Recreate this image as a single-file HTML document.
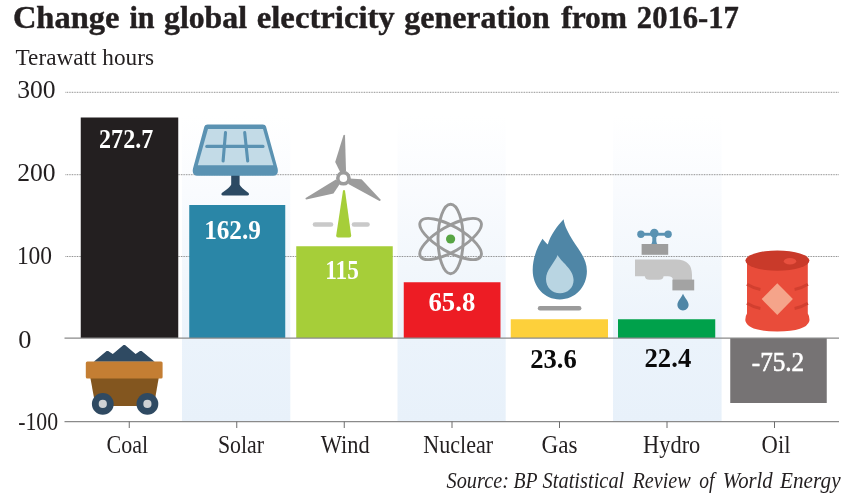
<!DOCTYPE html>
<html>
<head>
<meta charset="utf-8">
<title>Change in global electricity generation from 2016-17</title>
<style>
html,body{margin:0;padding:0;background:#ffffff;}
body{width:861px;height:494px;overflow:hidden;position:relative;font-family:"Liberation Serif",serif;}
svg{position:absolute;left:0;top:0;display:block;will-change:transform;}
text{font-family:"Liberation Serif",serif;fill:#231f20;}
.b{font-weight:bold;}
.t{stroke:#231f20;stroke-width:0.45px;}
.w{fill:#ffffff;}
.k{fill:#0a0a0a;}
.i{font-style:italic;}
</style>
</head>
<body>
<svg width="861" height="494" viewBox="0 0 861 494">
<defs>
<linearGradient id="band" x1="0" y1="0" x2="0" y2="1">
<stop offset="0" stop-color="#ffffff"/>
<stop offset="0.25" stop-color="#f9fbfe"/>
<stop offset="0.5" stop-color="#f2f7fc"/>
<stop offset="0.725" stop-color="#ebf3fb"/>
<stop offset="1" stop-color="#e8f1fa"/>
</linearGradient>
</defs>

<!-- alternating bands -->
<rect x="182" y="116" width="108.3" height="305" fill="url(#band)"/>
<rect x="397.5" y="116" width="108.2" height="305" fill="url(#band)"/>
<rect x="613" y="116" width="108.6" height="305" fill="url(#band)"/>

<!-- grid lines -->
<g stroke="#808080" stroke-width="1" stroke-dasharray="0.85 0.8" fill="none">
<line x1="65.5" y1="92.3" x2="839" y2="92.3"/>
<line x1="65.5" y1="174.7" x2="839" y2="174.7"/>
<line x1="65.5" y1="256.5" x2="839" y2="256.5"/>
</g>

<!-- bars -->
<rect x="80.75" y="117.5" width="97.5" height="220.5" fill="#231f20"/>
<rect x="189.25" y="205" width="96" height="133" fill="#2a86a7"/>
<rect x="296.25" y="246.25" width="96.5" height="91.75" fill="#a6ce39"/>
<rect x="403.75" y="282.25" width="96.75" height="55.75" fill="#ed1c24"/>
<rect x="510.75" y="319.25" width="97.25" height="18.75" fill="#fdd03b"/>
<rect x="618" y="319.25" width="97.25" height="18.75" fill="#00a14b"/>
<rect x="730.25" y="338" width="96.5" height="65" fill="#767374"/>

<!-- axis lines -->
<g stroke="#8a8a8a" stroke-width="1.25" fill="none">
<line x1="64.5" y1="338" x2="839" y2="338"/>
<line x1="64.5" y1="421.6" x2="839" y2="421.6"/>
</g>
<g stroke="#6d6d6d" stroke-width="1" fill="none">
<line x1="129.25" y1="421.6" x2="129.25" y2="428"/>
<line x1="236.75" y1="421.6" x2="236.75" y2="428"/>
<line x1="344.25" y1="421.6" x2="344.25" y2="428"/>
<line x1="452" y1="421.6" x2="452" y2="428"/>
<line x1="559.5" y1="421.6" x2="559.5" y2="428"/>
<line x1="667" y1="421.6" x2="667" y2="428"/>
<line x1="774.5" y1="421.6" x2="774.5" y2="428"/>
</g>

<!-- ICONS -->
<!-- coal cart -->
<g id="coal">
<polygon points="93.7,361.8 106.6,351 108.2,351 112.8,353.9 123.5,345 125,345 135.6,353.9 140,351 141.6,351 154.7,361.8" fill="#2f4a62"/>
<polygon points="90.4,378 158.7,378 153.8,406 95.5,406" fill="#83561f"/>
<rect x="85.8" y="361.6" width="76.8" height="16.8" rx="1.5" fill="#c47e33"/>
<circle cx="102.8" cy="403.9" r="10.9" fill="#2f4a62"/>
<circle cx="147.4" cy="403.9" r="10.9" fill="#2f4a62"/>
<circle cx="102.8" cy="403.9" r="4.1" fill="#cfd2d4"/>
<circle cx="147.4" cy="403.9" r="4.1" fill="#cfd2d4"/>
</g>

<!-- solar panel -->
<g id="solar">
<path d="M231.2,174 L239.6,174 L239.6,184.6 Q240.4,187.4 248.6,193 Q249.8,195.4 247.4,195.4 L223,195.4 Q220.6,195.4 221.8,193 Q230.4,187.4 231.2,184.6 Z" fill="#2c4a63"/>
<path d="M207.6,124.4 L262.8,124.4 Q265.4,124.4 266,126.6 L277.6,168.6 Q279,175.8 273,175.8 L197.6,175.8 Q191.6,175.8 193,168.6 L204.4,126.6 Q205,124.4 207.6,124.4 Z" fill="#5a92b2"/>
<polygon points="208,129 263,129 273.3,165.2 197.8,165.2" fill="#c3dbe7"/>
<g stroke="#5a92b2" stroke-width="3.1" stroke-linecap="round" fill="none">
<line x1="206.8" y1="146.4" x2="263" y2="146.4"/>
<line x1="225.5" y1="132.6" x2="223.1" y2="161"/>
<line x1="244.7" y1="132.6" x2="247.7" y2="161"/>
</g>
</g>

<!-- wind turbine -->
<g id="wind">
<g stroke="#c9c9c9" stroke-width="4.6" stroke-linecap="round">
<line x1="315" y1="224.5" x2="331" y2="224.5"/>
<line x1="354" y1="224.5" x2="367.5" y2="224.5"/>
</g>
<path d="M343,190.6 Q344,189.6 345,190.6 L351.2,235.4 Q351.4,237.4 349.4,237.4 L338,237.4 Q336,237.4 336.2,235.4 Z" fill="#a6ce39"/>
<g fill="#9c9c9c">
<path d="M343.4,135.4 Q344.3,134.2 345,135.6 L346,171 L340.6,173 L335.2,162 Z"/>
<path d="M343.4,135.4 Q344.3,134.2 345,135.6 L346,171 L340.6,173 L335.2,162 Z" transform="rotate(120 343.4 178.2)"/>
<path d="M343.4,135.4 Q344.3,134.2 345,135.6 L346,171 L340.6,173 L335.2,162 Z" transform="rotate(240 343.4 178.2)"/>
</g>
<circle cx="343.4" cy="178.2" r="5.6" fill="#ffffff" stroke="#9c9c9c" stroke-width="3.6"/>
</g>

<!-- atom -->
<g id="atom" fill="none" stroke="#9a9a9a" stroke-width="2.9">
<ellipse cx="450.6" cy="239" rx="12.6" ry="34.8"/>
<ellipse cx="450.6" cy="239" rx="12.6" ry="34.8" transform="rotate(60 450.6 239)"/>
<ellipse cx="450.6" cy="239" rx="12.6" ry="34.8" transform="rotate(120 450.6 239)"/>
</g>
<circle cx="450.6" cy="239" r="4.6" fill="#57a544"/>

<!-- gas flame -->
<g id="gas">
<path d="M563.6,219.2 C564.5,226 568,232.5 573.5,241.5 C579,250 586.9,259 586.9,271 C586.9,287 575,299.4 559.8,299.4 C544.6,299.4 532.7,287 532.7,270 C532.7,258 537.5,246.5 542.5,238.8 C544,241 546,243 547.8,244.4 C550.5,235 557,226 563.6,219.2 Z" fill="#4f86a6"/>
<path d="M557.7,255 C560,261 573.6,269 573.6,280 C573.6,288 567.5,293.2 560,293.2 C552,293.2 546,287.6 546,279 C546,270 554.5,263 557.7,255 Z" fill="#b9d5e2"/>
<line x1="540" y1="308.3" x2="579.2" y2="308.3" stroke="#9b9b9b" stroke-width="4.4" stroke-linecap="round"/>
</g>

<!-- hydro tap -->
<g id="hydro">
<g fill="#5a92b2">
<rect x="640.8" y="232.8" width="27.4" height="2.9"/>
<circle cx="640.9" cy="234.3" r="3.7"/>
<circle cx="654.3" cy="233.1" r="4.3"/>
<circle cx="668.1" cy="234.3" r="3.7"/>
<path d="M652.3,233 L656.3,233 L656.3,241 Q656.5,243.4 657.6,244.4 L651,244.4 Q652.1,243.4 652.3,241 Z"/>
</g>
<path d="M635,259.4 L676,259.4 Q692,259.4 692,275 L692,280 L673,280 Q673,276.2 668,276.2 L663.6,276.2 Q663.2,279.8 659,279.8 L649.4,279.8 Q645.2,279.8 644.8,276.2 L635,276.2 Z" fill="#c6c6c6"/>
<rect x="641.6" y="244" width="26.6" height="10.8" fill="#9d9d9d"/>
<rect x="672.4" y="279.6" width="21.8" height="10.8" fill="#a3a3a3"/>
<path d="M683,293.8 C684.8,298.2 688.6,301.2 688.6,304.8 C688.6,308.2 686,310.4 683,310.4 C680,310.4 677.4,308.2 677.4,304.8 C677.4,301.2 681.2,298.2 683,293.8 Z" fill="#4f86a6"/>
</g>

<!-- oil barrel -->
<g id="oil">
<path d="M747,260.6 L807.8,260.6 L807.8,313.6 Q809.8,316.6 809.4,321 Q806.4,331.4 777.4,331.4 Q748.4,331.4 745.4,321 Q745,316.6 747,313.6 Z" fill="#e94c3a"/>
<path d="M747,284.3 Q753.5,288.3 760.4,289.5" stroke="#d23f2f" stroke-width="3" fill="none"/>
<path d="M747,303.2 Q753.5,307.2 760.4,308.4" stroke="#d23f2f" stroke-width="3" fill="none"/>
<path d="M807.8,284.3 Q801.5,288.3 794.6,289.5" stroke="#d23f2f" stroke-width="3" fill="none"/>
<path d="M807.8,303.2 Q801.5,307.2 794.6,308.4" stroke="#d23f2f" stroke-width="3" fill="none"/>
<ellipse cx="777.4" cy="260.6" rx="32" ry="10.2" fill="#c93a2a"/>
<ellipse cx="790" cy="261.3" rx="6.2" ry="3.2" fill="#e8503f"/>
<polygon points="777.3,283.3 792.9,299.1 777.3,314.9 761.7,299.1" fill="#f5a48a"/>
</g>

<!-- TEXT -->
<text class="b t" x="12.90" y="28" font-size="32.5" textLength="106.45" lengthAdjust="spacingAndGlyphs">Change</text>
<text class="b t" x="129.40" y="28" font-size="32.5" textLength="25.10" lengthAdjust="spacingAndGlyphs">in</text>
<text class="b t" x="164.02" y="28" font-size="32.5" textLength="82.97" lengthAdjust="spacingAndGlyphs">global</text>
<text class="b t" x="256.79" y="28" font-size="32.5" textLength="137.92" lengthAdjust="spacingAndGlyphs">electricity</text>
<text class="b t" x="404.22" y="28" font-size="32.5" textLength="145.61" lengthAdjust="spacingAndGlyphs">generation</text>
<text class="b t" x="561.20" y="28" font-size="32.5" textLength="65.88" lengthAdjust="spacingAndGlyphs">from</text>
<text class="b t" x="636.86" y="28" font-size="32.5" textLength="101.95" lengthAdjust="spacingAndGlyphs">2016-17</text>
<text x="15.50" y="64.5" font-size="23" textLength="138.50" lengthAdjust="spacingAndGlyphs">Terawatt hours</text>

<text x="17.18" y="97.7" font-size="25.2" textLength="38.41" lengthAdjust="spacingAndGlyphs">300</text>
<text x="17.18" y="181" font-size="25.2" textLength="38.41" lengthAdjust="spacingAndGlyphs">200</text>
<text x="16.88" y="264.1" font-size="25.2" textLength="35.24" lengthAdjust="spacingAndGlyphs">100</text>
<text x="18.15" y="347.6" font-size="25.2" textLength="13.17" lengthAdjust="spacingAndGlyphs">0</text>
<text x="18.14" y="430.4" font-size="25.2" textLength="39.91" lengthAdjust="spacingAndGlyphs">-100</text>

<text x="106.62" y="453" font-size="25" textLength="41.57" lengthAdjust="spacingAndGlyphs">Coal</text>
<text x="217.88" y="453" font-size="25" textLength="46.18" lengthAdjust="spacingAndGlyphs">Solar</text>
<text x="320.75" y="453" font-size="25" textLength="48.84" lengthAdjust="spacingAndGlyphs">Wind</text>
<text x="423.25" y="453" font-size="25" textLength="69.86" lengthAdjust="spacingAndGlyphs">Nuclear</text>
<text x="541.57" y="453" font-size="25" textLength="36.00" lengthAdjust="spacingAndGlyphs">Gas</text>
<text x="643.10" y="453" font-size="25" textLength="57.20" lengthAdjust="spacingAndGlyphs">Hydro</text>
<text x="761.60" y="453" font-size="25" textLength="28.86" lengthAdjust="spacingAndGlyphs">Oil</text>

<text class="b w" x="99.11" y="148.2" font-size="27" textLength="54.06" lengthAdjust="spacingAndGlyphs">272.7</text>
<text class="b w" x="204.13" y="239.25" font-size="27" textLength="56.77" lengthAdjust="spacingAndGlyphs">162.9</text>
<text class="b w" x="325.28" y="278.75" font-size="27" textLength="33.60" lengthAdjust="spacingAndGlyphs">115</text>
<text class="b w" x="428.51" y="311.25" font-size="27" textLength="46.74" lengthAdjust="spacingAndGlyphs">65.8</text>
<text class="b k" x="530.27" y="367.5" font-size="27" textLength="46.48" lengthAdjust="spacingAndGlyphs">23.6</text>
<text class="b k" x="644.51" y="367" font-size="27" textLength="46.74" lengthAdjust="spacingAndGlyphs">22.4</text>
<text class="w" x="751.82" y="371" font-size="27" textLength="52.34" lengthAdjust="spacingAndGlyphs" stroke="#ffffff" stroke-width="0.6">-75.2</text>

<text class="i" x="446.5" y="488" font-size="23" textLength="62.5" lengthAdjust="spacingAndGlyphs">Source:</text>
<text class="i" x="513.5" y="488" font-size="23" textLength="24.1" lengthAdjust="spacingAndGlyphs">BP</text>
<text class="i" x="542.6" y="488" font-size="23" textLength="81.7" lengthAdjust="spacingAndGlyphs">Statistical</text>
<text class="i" x="632.4" y="488" font-size="23" textLength="58.4" lengthAdjust="spacingAndGlyphs">Review</text>
<text class="i" x="699.2" y="488" font-size="23" textLength="15.2" lengthAdjust="spacingAndGlyphs">of</text>
<text class="i" x="722.8" y="488" font-size="23" textLength="49.85" lengthAdjust="spacingAndGlyphs">World</text>
<text class="i" x="780" y="488" font-size="23" textLength="60.6" lengthAdjust="spacingAndGlyphs">Energy</text>
</svg>
</body>
</html>
